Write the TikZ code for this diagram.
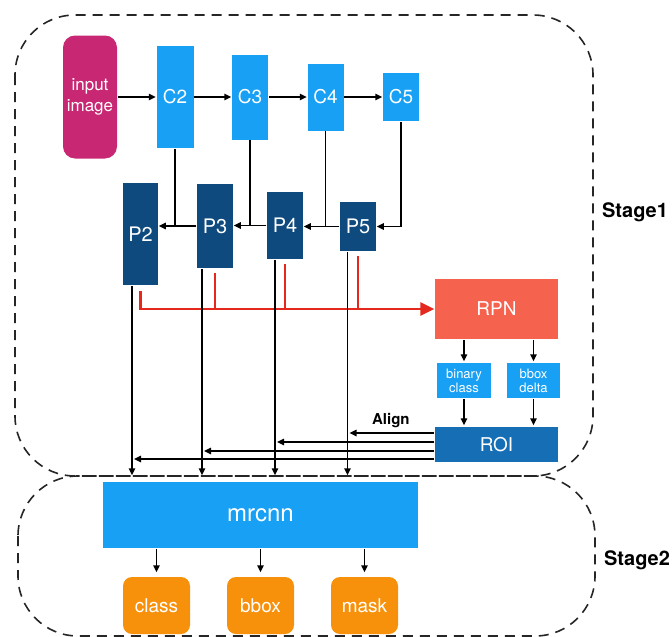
\documentclass[tikz,border=0pt]{standalone}
\usepackage{fontspec}
\setmainfont{TeX Gyre Heros}
\usetikzlibrary{arrows,arrows.meta,calc,positioning}
\definecolor{inmag}{RGB}{200,40,115}
\definecolor{cblue}{RGB}{24,160,245}
\definecolor{pblue}{RGB}{14,74,126}
\definecolor{rpnred}{RGB}{245,98,78}
\definecolor{roiblue}{RGB}{22,110,180}
\definecolor{outor}{RGB}{247,145,12}
\definecolor{linered}{RGB}{228,40,30}

\begin{document}
\begin{tikzpicture}[>={Triangle[length=7pt,width=6.5pt]}, x=1pt, y=-1pt, line width=1.5pt]
\useasboundingbox (0,0) rectangle (672,637);
\newcommand{\blk}[1][]{\node [#1, text=white, inner sep=0pt]}
\newcommand{\fs}[1]{\fontsize{#1}{#1}\selectfont}
\tikzset{
  stage/.style={draw=black!85, dash pattern=on 10pt off 7pt, rounded corners=60pt, line width=1.6pt},
  redline/.style={draw=linered, line width=2.8pt},
}

% stages
\draw [stage] (15,15) rectangle (593,476);
\draw [stage] (18,476) rectangle (595,636);
\node [anchor=west, font=\bfseries\fs{20}] (S1) at (598,212) {Stage1};
\node [anchor=west, font=\bfseries\fs{20}] (S2) at (600,560) {Stage2};

% backbone
\blk [fill=inmag, rounded corners=12pt, minimum width=54pt, minimum height=123pt,
      align=center, font=\fontsize{17}{21}\selectfont] (in) at (90,97) {input\\image};
\blk [fill=cblue, minimum width=37pt, minimum height=102pt, right=38pt of in, font=\fs{19}] (C2) {C2};
\blk [fill=cblue, minimum width=36pt, minimum height=85pt, right=37pt of C2, font=\fs{19}] (C3) {C3};
\blk [fill=cblue, minimum width=36pt, minimum height=67pt, right=38pt of C3, font=\fs{19}] (C4) {C4};
\blk [fill=cblue, minimum width=36pt, minimum height=48pt, right=38pt of C4, font=\fs{19}] (C5) {C5};

% pyramid
\blk [fill=pblue, minimum width=35pt, minimum height=102pt, font=\fs{20}] (P2) at (140.5,234) {P2};
\blk [fill=pblue, minimum width=36pt, minimum height=84pt, font=\fs{20}] (P3) at (215,226) {P3};
\blk [fill=pblue, minimum width=36pt, minimum height=67pt, font=\fs{20}] (P4) at (285,225.5) {P4};
\blk [fill=pblue, minimum width=36pt, minimum height=49pt, font=\fs{20}] (P5) at (358,226.5) {P5};

% rpn
\blk [fill=rpnred, minimum width=123pt, minimum height=60pt, font=\fs{19}] (RPN) at (496.5,309) {RPN};
\blk [fill=cblue, minimum width=54pt, minimum height=35pt, align=center,
      font=\fontsize{13}{14}\selectfont] (bin) at (464,380.5) {binary\\class};
\blk [fill=cblue, minimum width=53pt, minimum height=35pt, align=center,
      font=\fontsize{13}{14}\selectfont] (del) at (533.5,380.5) {bbox\\delta};
\blk [fill=roiblue, minimum width=123pt, minimum height=35pt, font=\fs{19}] (ROI) at (496.5,444.5) {ROI};

% head
\blk [fill=cblue, minimum width=315pt, minimum height=66pt, font=\fs{24}] (mrcnn) at (260.5,515) {mrcnn};
\foreach \n/\x in {class/156.5, bbox/260.5, mask/364.5} {
  \blk [fill=outor, rounded corners=9pt, minimum width=67pt, minimum height=57pt, font=\fs{19}] (\n) at (\x,605.5) {\n};
  \draw [->, shorten >=4pt] (\n |- mrcnn.south) -- (\n);
}

\foreach \a/\b in {in/C2, C2/C3, C3/C4, C4/C5}
  \draw [->] (\a) -- (\b);

\foreach \a/\b/\c in {P3/P2/C2, P4/P3/C3, P5/P4/C4} {
  \draw [->] (\a.west) -- (\a.west -| \b.east);
  \draw (\c) -- (\c |- \a.west);
}
\draw [->] (C5) |- (P5);

\draw [redline, -{Triangle[length=14pt,width=13pt]}] ([yshift=-5pt]P2.south) |- (RPN);
\foreach \p in {P3,P4,P5}
  \draw [redline] ([yshift=-4pt]\p.south) -- (\p.south |- RPN.west);

\foreach \p/\dx in {P2/-8.5, P3/-13, P4/-10, P5/-10.5} {
  \coordinate (l\p) at ([xshift=\dx pt]\p.south);
  \draw [->, shorten >=6pt] (l\p) -- (l\p |- mrcnn.north);
}

\draw [->, shorten >=1pt] (bin |- RPN.south) -- (bin);
\draw [->, shorten >=1pt] (del |- RPN.south) -- (del);
\draw [->, shorten >=1pt] (bin) -- (bin |- ROI.north);
\draw [->, shorten >=1pt] (del) -- (del |- ROI.north);

\draw [->, shorten >=2pt] ([yshift=11.5pt]ROI.west) -- node [above=1pt, font=\bfseries\fs{15}] {Align} ([yshift=11.5pt]ROI.west -| lP5);
\foreach \dy/\p in {2.5/P4, -6.5/P3, -14.5/P2}
  \draw [->, shorten >=2pt] ([yshift=\dy pt]ROI.west) -- ([yshift=\dy pt]ROI.west -| l\p);
\end{tikzpicture}
\end{document}
